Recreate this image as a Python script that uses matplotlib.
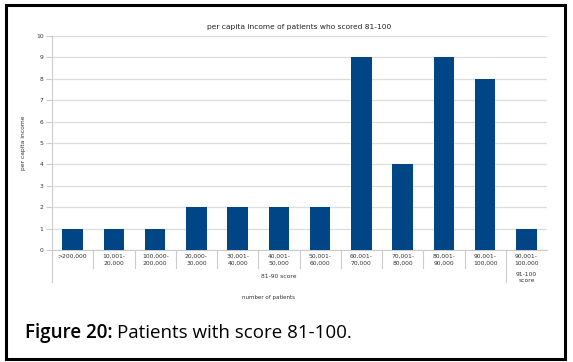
import matplotlib
matplotlib.use("Agg")
import matplotlib.pyplot as plt
from matplotlib.patches import Rectangle

categories = [">200,000", "10,001-\n20,000", "100,000-\n200,000", "20,000-\n30,000",
              "30,001-\n40,000", "40,001-\n50,000", "50,001-\n60,000", "60,001-\n70,000",
              "70,001-\n80,000", "80,001-\n90,000", "90,001-\n100,000", "90,001-\n100,000"]
values = [1, 1, 1, 2, 2, 2, 2, 9, 4, 9, 8, 1]
groups = ["81-90 score", "91-100\nscore"]
group_sizes = [11, 1]

W, H = 573, 362
fig = plt.figure(figsize=(W / 100, H / 100), dpi=100)
fig.patch.set_facecolor("white")

# black frame around the figure
fig.patches.append(Rectangle((6 / W, 3.5 / H), 559 / W, 354 / H, transform=fig.transFigure,
                             fill=False, edgecolor="black", linewidth=2.2))

x0, x1, ytop, ybot = 52, 547, 36, 250
ax = fig.add_axes([x0 / W, (H - ybot) / H, (x1 - x0) / W, (ybot - ytop) / H])

pos = list(range(len(values)))
ax.bar(pos, values, width=0.5, color="#004586", zorder=3)
ax.set_xlim(-0.5, len(values) - 0.5)
ax.set_ylim(0, 10)
ax.set_yticks(range(0, 11))
ax.grid(axis="y", color="#dddddd", linewidth=0.9, zorder=0)
for s in ["top", "right"]:
    ax.spines[s].set_visible(False)
ax.spines["left"].set_color("#cccccc")
ax.spines["bottom"].set_color("#cccccc")
ax.spines["left"].set_linewidth(0.8)
ax.spines["bottom"].set_linewidth(0.8)
ax.tick_params(axis="y", labelsize=4.3, length=4, color="#cccccc", pad=2, labelcolor="#333333")
ax.set_xticks(pos)
ax.set_xticklabels(categories, fontsize=4.3, color="#333333", linespacing=1.3)
ax.tick_params(axis="x", length=0, pad=3)

# category separators and group separators below the axis
tr = ax.get_xaxis_transform()
px = 1 / (ybot - ytop)
start = 0
group_edges = [0]
for n in group_sizes:
    start += n
    group_edges.append(start)
for b in range(1, len(values)):
    depth = 32 if b in group_edges else 18
    ax.plot([b - 0.5, b - 0.5], [0, -depth * px], transform=tr, color="#cccccc",
            linewidth=0.8, clip_on=False)
ax.plot([-0.5, -0.5], [0, -32 * px], transform=tr, color="#cccccc", linewidth=0.8, clip_on=False)

for g, a, b in zip(groups, group_edges[:-1], group_edges[1:]):
    yy = -24 * px if "\n" not in g else -22 * px
    ax.text((a + b - 1) / 2, yy, g, transform=tr, ha="center", va="top", fontsize=4.3,
            color="#333333", linespacing=1.3)

ax.set_title("per capita income of patients who scored 81-100", fontsize=5.4, pad=5, color="#222222")
ax.set_ylabel("per capita income", fontsize=4.3, labelpad=7.5, color="#333333")
fig.text(268 / W, 1 - 298 / H, "number of patients", fontsize=4, ha="center", va="center", color="#333333")

t1 = fig.text(25 / W, 1 - 333 / H, "Figure 20:", fontsize=13.5, fontweight="semibold",
              family="Open Sans", ha="left", va="center")
fig.canvas.draw()
bb = t1.get_window_extent()
fig.text((bb.x1 + 4) / W, 1 - 333 / H, "Patients with score 81-100.", fontsize=13.5,
         family="Open Sans", ha="left", va="center")

fig.savefig("out.png", dpi=100)
